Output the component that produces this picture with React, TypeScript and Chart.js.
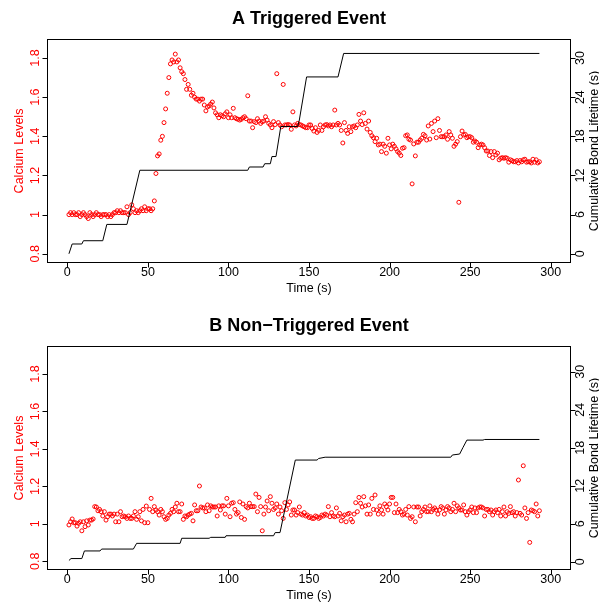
import { useEffect, useRef } from "react";
import { Chart, registerables } from "chart.js";

Chart.register(...registerables);

const FONT = '"Liberation Sans", Arial, Helvetica, sans-serif';

// Sampling instants (s), one frame per second
const sampleTimes: number[] = Array.from({ length: 293 }, (_, i) => i + 1);

const timeTicks = [0, 50, 100, 150, 200, 250, 300];
const calciumTicks = [0.8, 1.0, 1.2, 1.4, 1.6, 1.8];
const bondTicks = [0, 6, 12, 18, 24, 30];

// Panel A: triggered event
const calciumA = [
  1.0, 1.01, 1.0, 1.01, 1.0, 1.0, 1.01, 0.99, 1.0, 1.01,
  1.0, 0.99, 0.98, 1.01, 1.0, 0.99, 1.0, 1.01, 1.0, 1.0,
  0.99, 1.0, 1.0, 1.0, 0.99, 1.0, 0.99, 1.0, 1.01, 1.01,
  1.02, 1.01, 1.02, 1.01, 1.01, 1.01, 1.04, 1.0, 1.01, 1.05,
  1.03, 1.01, 1.02, 1.01, 1.02, 1.03, 1.02, 1.04, 1.02, 1.03,
  1.03, 1.02, 1.03, 1.07, 1.21, 1.3, 1.31, 1.38, 1.4, 1.47,
  1.54, 1.62, 1.7, 1.77, 1.79, 1.78, 1.82, 1.78, 1.79, 1.75,
  1.73, 1.72, 1.69, 1.64, 1.665, 1.64, 1.61, 1.62, 1.6, 1.59,
  1.59, 1.58, 1.59, 1.59, 1.56, 1.53, 1.55, 1.555, 1.565, 1.575,
  1.545, 1.52, 1.51, 1.495, 1.51, 1.505, 1.5, 1.515, 1.525, 1.495,
  1.51, 1.495, 1.543, 1.495, 1.49, 1.487, 1.483, 1.487, 1.495, 1.5,
  1.49, 1.607, 1.478, 1.478, 1.444, 1.475, 1.47, 1.49, 1.478, 1.466,
  1.475, 1.478, 1.5, 1.483, 1.466, 1.458, 1.444, 1.475, 1.46, 1.72,
  1.47, 1.458, 1.449, 1.665, 1.458, 1.458, 1.46, 1.458, 1.436, 1.525,
  1.458, 1.453, 1.466, 1.46, 1.458, 1.453, 1.449, 1.444, 1.444, 1.458,
  1.458, 1.44, 1.427, 1.444, 1.42, 1.43, 1.458, 1.43, 1.449, 1.458,
  1.46, 1.453, 1.458, 1.449, 1.458, 1.534, 1.458, 1.466, 1.458, 1.43,
  1.366, 1.47, 1.43, 1.415, 1.449, 1.424, 1.449, 1.453, 1.444, 1.458,
  1.512, 1.478, 1.46, 1.52, 1.466, 1.437, 1.478, 1.42, 1.403, 1.393,
  1.373, 1.39, 1.356, 1.36, 1.322, 1.36, 1.349, 1.314, 1.39, 1.356,
  1.336, 1.36, 1.349, 1.336, 1.322, 1.314, 1.302, 1.339, 1.342, 1.403,
  1.407, 1.385, 1.381, 1.157, 1.361, 1.3, 1.37, 1.37, 1.381, 1.39,
  1.41, 1.403, 1.381, 1.453, 1.386, 1.466, 1.424, 1.478, 1.393, 1.49,
  1.43, 1.398, 1.398, 1.398, 1.407, 1.385, 1.424, 1.407, 1.39, 1.349,
  1.36, 1.373, 1.063, 1.398, 1.427, 1.407, 1.41, 1.393, 1.398, 1.398,
  1.393, 1.37, 1.376, 1.37, 1.342, 1.356, 1.36, 1.356, 1.342, 1.325,
  1.325, 1.302, 1.322, 1.291, 1.322, 1.305, 1.314, 1.28, 1.288, 1.291,
  1.288, 1.291, 1.288, 1.268, 1.28, 1.276, 1.27, 1.27, 1.276, 1.264,
  1.276, 1.27, 1.28, 1.283, 1.268, 1.27, 1.27, 1.264, 1.283, 1.268,
  1.28, 1.264, 1.27,
];
const bondTimesA = [1, 3, 9, 10, 22, 24.5, 37, 45, 112, 113, 121.5, 122.5, 126, 127, 129.5, 132.5, 143, 144, 148.5, 168, 171.5, 293];
const bondLifetimeA = [0, 1.5, 1.5, 2.0, 2.0, 4.5, 4.5, 12.8, 12.8, 13.3, 13.3, 13.8, 13.8, 14.9, 14.9, 19.5, 19.5, 20.5, 27.1, 27.1, 30.7, 30.7];

// Panel B: non-triggered event
const calciumB = [
  0.994, 1.011, 1.026, 1.006, 1.006, 0.988, 1.003, 1.011, 0.963, 1.011,
  0.985, 1.016, 0.994, 1.02, 1.02, 1.026, 1.092, 1.09, 1.07, 1.077,
  1.065, 1.042, 1.065, 1.02, 1.038, 1.052, 1.052, 1.042, 1.052, 1.011,
  1.052, 1.011, 1.065, 1.038, 1.042, 1.038, 1.029, 1.042, 1.029, 1.029,
  1.042, 1.065, 1.024, 1.038, 1.065, 1.016, 1.077, 1.006, 1.095, 1.006,
  1.077, 1.136, 1.065, 1.092, 1.074, 1.065, 1.047, 1.077, 1.065, 1.038,
  1.024, 1.029, 1.047, 1.056, 1.077, 1.065, 1.09, 1.11, 1.065, 1.065,
  1.106, 1.024, 1.042, 1.038, 1.047, 1.052, 1.056, 1.016, 1.101, 1.07,
  1.07, 1.202, 1.09, 1.085, 1.085, 1.065, 1.101, 1.07, 1.096, 1.09,
  1.09, 1.09, 1.042, 1.096, 1.074, 1.096, 1.096, 1.052, 1.136, 1.096,
  1.038, 1.11, 1.113, 1.077, 1.052, 1.06, 1.117, 1.034, 1.106, 1.024,
  1.092, 1.085, 1.11, 1.092, 1.092, 1.092, 1.159, 1.065, 1.141, 1.092,
  0.963, 1.052, 1.09, 1.122, 1.07, 1.145, 1.11, 1.077, 1.085, 1.106,
  1.052, 1.09, 1.07, 1.029, 1.113, 1.077, 1.101, 1.117, 1.047, 1.074,
  1.074, 1.047, 1.06, 1.09, 1.052, 1.047, 1.06, 1.042, 1.047, 1.034,
  1.038, 1.029, 1.029, 1.042, 1.038, 1.029, 1.034, 1.047, 1.042, 1.052,
  1.047, 1.092, 1.038, 1.06, 1.042, 1.038, 1.085, 1.042, 1.056, 1.016,
  1.038, 1.047, 1.011, 1.052, 1.056, 1.024, 1.011, 1.052, 1.113, 1.065,
  1.141, 1.11, 1.09, 1.145, 1.096, 1.052, 1.101, 1.052, 1.136, 1.077,
  1.154, 1.074, 1.052, 1.096, 1.074, 1.052, 1.106, 1.092, 1.074, 1.106,
  1.141, 1.141, 1.06, 1.106, 1.06, 1.077, 1.065, 1.047, 1.052, 1.077,
  1.047, 1.092, 1.029, 1.038, 1.09, 1.011, 1.09, 1.09, 1.042, 1.065,
  1.077, 1.09, 1.065, 1.065, 1.096, 1.065, 1.077, 1.085, 1.074, 1.052,
  1.074, 1.092, 1.085, 1.052, 1.074, 1.092, 1.085, 1.065, 1.077, 1.11,
  1.065, 1.096, 1.085, 1.074, 1.074, 1.101, 1.065, 1.047, 1.065, 1.074,
  1.09, 1.06, 1.085, 1.06, 1.085, 1.09, 1.09, 1.085, 1.042, 1.077,
  1.077, 1.065, 1.074, 1.047, 1.065, 1.074, 1.06, 1.077, 1.042, 1.065,
  1.09, 1.042, 1.065, 1.056, 1.092, 1.06, 1.065, 1.042, 1.06, 1.234,
  1.056, 1.047, 1.31, 1.085, 1.029, 1.06, 0.901, 1.074, 1.07, 1.065,
  1.106, 1.042, 1.07,
];
const bondTimesB = [1, 2.3, 9, 10.6, 20.3, 21.3, 41, 43, 70, 71, 88, 89, 98, 98.5, 128, 129, 132, 141.5, 155, 156, 160, 238, 239, 243.5, 245.5, 248, 258, 259, 293];
const bondLifetimeB = [0.2, 0.5, 0.5, 1.7, 1.7, 2.0, 2.0, 2.9, 2.9, 3.7, 3.7, 3.85, 3.85, 4.1, 4.1, 4.6, 4.6, 16.05, 16.05, 16.3, 16.5, 16.5, 16.85, 17.0, 18.0, 19.2, 19.2, 19.3, 19.3];

type Panel = {
  title: string;
  calcium: number[];
  bondTimes: number[];
  bondValues: number[];
  calciumRange: [number, number];
  bondRange: [number, number];
  top: number;
  axisHeight: number;
};

const panelA: Panel = {
  title: "A Triggered Event",
  calcium: calciumA,
  bondTimes: bondTimesA,
  bondValues: bondLifetimeA,
  calciumRange: [0.758, 1.892],
  bondRange: [-1.26, 32.76],
  top: 40,
  axisHeight: 40,
};

const panelB: Panel = {
  title: "B Non\u2212Triggered Event",
  calcium: calciumB,
  bondTimes: bondTimesB,
  bondValues: bondLifetimeB,
  calciumRange: [0.759, 1.944],
  bondRange: [-1.15, 33.9],
  top: 45,
  axisHeight: 35,
};

const fmt = (v: number) => String(Number(v.toFixed(1)));

function decorations(title: string) {
  return {
    id: "baseStyleFrame",
    afterDraw(chart: any) {
      const { ctx, chartArea: a } = chart;
      const xs = chart.scales.x;
      const yl = chart.scales.y;
      const yr = chart.scales.y1;
      const L = Math.round(a.left) - 0.5;
      const R = Math.round(a.right) + 0.5;
      const T = Math.round(a.top) - 0.5;
      const B = Math.round(a.bottom) + 0.5;
      ctx.save();
      ctx.lineWidth = 1;
      ctx.strokeStyle = "#000";
      ctx.strokeRect(L, T, R - L, B - T);

      ctx.beginPath();
      xs.ticks.forEach((t: any) => {
        const px = Math.round(xs.getPixelForValue(t.value)) + 0.5;
        ctx.moveTo(px, B);
        ctx.lineTo(px, B + 5);
      });
      yl.ticks.forEach((t: any) => {
        const py = Math.round(yl.getPixelForValue(t.value)) + 0.5;
        ctx.moveTo(L, py);
        ctx.lineTo(L - 5, py);
      });
      yr.ticks.forEach((t: any) => {
        const py = Math.round(yr.getPixelForValue(t.value)) + 0.5;
        ctx.moveTo(R, py);
        ctx.lineTo(R + 5, py);
      });
      ctx.stroke();

      ctx.font = `12.5px ${FONT}`;
      ctx.textAlign = "center";
      ctx.textBaseline = "alphabetic";
      ctx.fillStyle = "#000";
      xs.ticks.forEach((t: any) => {
        ctx.fillText(fmt(t.value), xs.getPixelForValue(t.value), a.bottom + 14);
      });
      ctx.fillText("Time (s)", (a.left + a.right) / 2, a.bottom + 29.5);

      const rotated = (text: string, x: number, y: number, color: string) => {
        ctx.save();
        ctx.translate(x, y);
        ctx.rotate(-Math.PI / 2);
        ctx.fillStyle = color;
        ctx.fillText(text, 0, 0);
        ctx.restore();
      };
      yl.ticks.forEach((t: any) => rotated(fmt(t.value), a.left - 9, yl.getPixelForValue(t.value), "#ff0000"));
      yr.ticks.forEach((t: any) => rotated(fmt(t.value), a.right + 13.5, yr.getPixelForValue(t.value), "#000"));
      const midY = (a.top + a.bottom) / 2;
      rotated("Calcium Levels", a.left - 25.5, midY, "#ff0000");
      rotated("Cumulative Bond Lifetime (s)", a.right + 28, midY, "#000");

      ctx.font = `bold 18px ${FONT}`;
      ctx.fillStyle = "#000";
      ctx.fillText(title, (a.left + a.right) / 2, a.top - 16);
      ctx.restore();
    },
  };
}

function buildPanel(canvas: HTMLCanvasElement, p: Panel) {
  const fixedTicks = (values: number[]) => (scale: any) => {
    scale.ticks = values.map((value) => ({ value }));
  };
  return new Chart(canvas, {
    type: "scatter",
    data: {
      datasets: [
        {
          label: "Calcium Levels",
          data: sampleTimes.map((t, i) => ({ x: t, y: p.calcium[i] })),
          yAxisID: "y",
          pointStyle: "circle",
          pointRadius: 2,
          pointHoverRadius: 2,
          borderWidth: 1,
          borderColor: "#ff0000",
          backgroundColor: "rgba(0,0,0,0)",
          showLine: false,
          order: 2,
        },
        {
          label: "Cumulative Bond Lifetime (s)",
          data: p.bondTimes.map((t, i) => ({ x: t, y: p.bondValues[i] })),
          yAxisID: "y1",
          showLine: true,
          pointRadius: 0,
          borderWidth: 1,
          borderColor: "#000",
          backgroundColor: "#000",
          tension: 0,
          order: 1,
        },
      ],
    },
    options: {
      animation: false,
      responsive: false,
      maintainAspectRatio: false,
      events: [],
      layout: { padding: { top: p.top, left: 0, right: 0, bottom: 0 } },
      plugins: { legend: { display: false }, tooltip: { enabled: false }, title: { display: false } },
      scales: {
        x: {
          type: "linear",
          position: "bottom",
          min: -12,
          max: 312,
          grid: { display: false },
          border: { display: false },
          ticks: { display: false },
          afterBuildTicks: fixedTicks(timeTicks),
          afterFit: (s: any) => {
            s.height = p.axisHeight;
          },
        },
        y: {
          type: "linear",
          position: "left",
          min: p.calciumRange[0],
          max: p.calciumRange[1],
          grid: { display: false },
          border: { display: false },
          ticks: { display: false },
          afterBuildTicks: fixedTicks(calciumTicks),
          afterFit: (s: any) => {
            s.width = 48;
          },
        },
        y1: {
          type: "linear",
          position: "right",
          min: p.bondRange[0],
          max: p.bondRange[1],
          grid: { display: false },
          border: { display: false },
          ticks: { display: false },
          afterBuildTicks: fixedTicks(bondTicks),
          afterFit: (s: any) => {
            s.width = 29;
          },
        },
      },
    } as any,
    plugins: [decorations(p.title)],
  });
}

export default function App() {
  const refA = useRef<HTMLCanvasElement>(null);
  const refB = useRef<HTMLCanvasElement>(null);

  useEffect(() => {
    const a = buildPanel(refA.current!, panelA);
    const b = buildPanel(refB.current!, panelB);
    return () => {
      a.destroy();
      b.destroy();
    };
  }, []);

  return (
    <div style={{ position: "absolute", left: 0, top: 0, width: 599, height: 604, background: "#fff" }}>
      <canvas ref={refA} width={599} height={302} style={{ display: "block" }} />
      <canvas ref={refB} width={599} height={302} style={{ display: "block" }} />
    </div>
  );
}
